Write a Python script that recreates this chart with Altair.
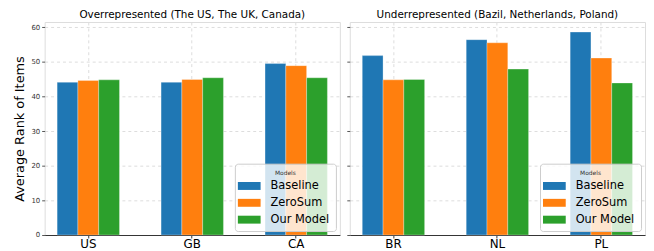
import altair as alt
import pandas as pd

models = ["Baseline", "ZeroSum", "Our Model"]
colors = ["#1f77b4", "#ff7f0e", "#2ca02c"]

cats_over = ["US", "GB", "CA"]
baseline_over = [44.1, 44.1, 49.5]
zerosum_over = [44.6, 44.9, 48.9]
ours_over = [44.8, 45.4, 45.4]

cats_under = ["BR", "NL", "PL"]
baseline_under = [51.8, 56.4, 58.6]
zerosum_under = [44.8, 55.5, 51.1]
ours_under = [44.9, 47.9, 43.9]

y_ticks = [0, 10, 20, 30, 40, 50, 60]


def make_df(cats, b, z, o):
    rows = []
    for i, c in enumerate(cats):
        for m, vals in zip(models, [b, z, o]):
            rows.append({"country": c, "model": m, "rank": vals[i]})
    return pd.DataFrame(rows)


def panel(cats, b, z, o, title, first):
    df = make_df(cats, b, z, o)
    return alt.Chart(df, title=alt.TitleParams(title, fontSize=10.5, fontWeight="normal",
                                               font="DejaVu Sans", offset=2, color="black")).mark_bar(
        stroke="white", strokeWidth=0.5, strokeOpacity=0.6
    ).encode(
        x=alt.X("country:N", sort=cats,
                scale=alt.Scale(paddingInner=0.4, paddingOuter=0.12),
                axis=alt.Axis(title=None, labelAngle=0, labelFontSize=12, labelFont="DejaVu Sans",
                              labelColor="black", grid=True, gridDash=[3, 3], gridColor="#dddddd",
                              tickSize=3, tickColor="#333", domainColor="#333", labelPadding=1)),
        xOffset=alt.XOffset("model:N", sort=models, scale=alt.Scale(domain=models)),
        y=alt.Y("rank:Q", scale=alt.Scale(domain=[0, 61.5], nice=False),
                axis=alt.Axis(values=y_ticks, title="Average Rank of Items" if first else None,
                              labels=first, labelFontSize=7, labelFont="DejaVu Sans", labelColor="#333",
                              titleFontSize=13, titleFont="DejaVu Sans", titleFontWeight="normal",
                              titleColor="black", titlePadding=4,
                              grid=True, gridDash=[3, 3], gridColor="#dddddd",
                              tickSize=3, tickColor="#555", domain=False, labelPadding=2)),
        color=alt.Color("model:N", sort=models,
                        scale=alt.Scale(domain=models, range=colors),
                        legend=alt.Legend(title="Models", orient="bottom-right", offset=4,
                                          titleFontSize=6, titleFont="DejaVu Sans", titleFontWeight="normal",
                                          titleAnchor="middle", titleColor="#333", titlePadding=2,
                                          labelFontSize=11.5, labelFont="DejaVu Sans", labelColor="black",
                                          symbolType="M-1.35,-0.47L1.35,-0.47L1.35,0.47L-1.35,0.47Z",
                                          symbolSize=289, symbolStrokeWidth=0, symbolOpacity=1,
                                          rowPadding=3, labelOffset=13,
                                          fillColor="rgba(255,255,255,0.8)", strokeColor="#cccccc",
                                          cornerRadius=3, padding=6)),
    ).properties(width=298, height=215)


left = panel(cats_over, baseline_over, zerosum_over, ours_over,
             "Overrepresented (The US, The UK, Canada)", True)
right = panel(cats_under, baseline_under, zerosum_under, ours_under,
              "Underrepresented (Bazil, Netherlands, Poland)", False)

chart = alt.hconcat(left, right, spacing=5).resolve_scale(color="independent").resolve_legend(
    color="independent"
).properties(padding={"left": 5, "top": 0, "right": 0, "bottom": 0}).configure_view(
    stroke="#888888", strokeWidth=1
).configure(background="white")

chart.save("out.html", embed_options={"renderer": "svg", "actions": False})
